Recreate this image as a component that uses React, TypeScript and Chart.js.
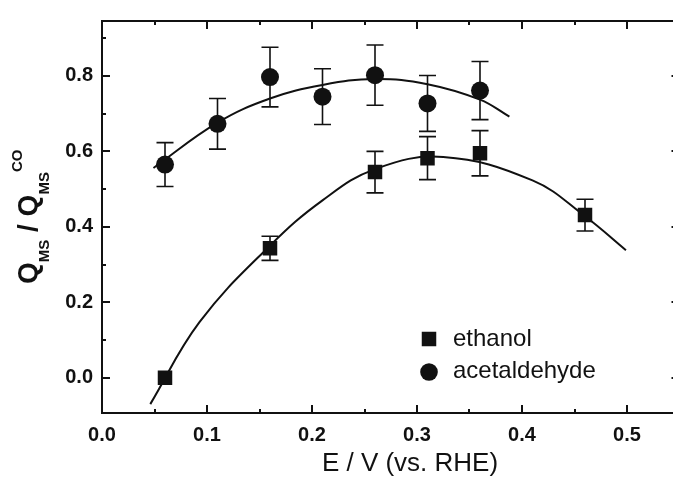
import React, { useEffect, useRef } from "react";
import { Chart, registerables } from "chart.js";

Chart.register(...registerables);

// ---- data ----
const ethanolPotentials = [0.06, 0.16, 0.26, 0.31, 0.36, 0.46];
const ethanolValues = [0.0, 0.343, 0.545, 0.582, 0.595, 0.431];
const ethanolErrors = [0, 0.032, 0.055, 0.057, 0.06, 0.042];

const acetaldehydePotentials = [0.06, 0.11, 0.16, 0.21, 0.26, 0.31, 0.36];
const acetaldehydeValues = [0.565, 0.673, 0.797, 0.745, 0.802, 0.727, 0.761];
const acetaldehydeErrors = [0.058, 0.067, 0.079, 0.074, 0.08, 0.074, 0.077];

const ethanolFitX = [0.046, 0.093, 0.16, 0.21, 0.26, 0.325, 0.41, 0.46, 0.499];
const ethanolFitY = [-0.07, 0.148, 0.35, 0.47, 0.553, 0.585, 0.523, 0.428, 0.338];

const acetaldehydeFitX = [0.049, 0.11, 0.16, 0.21, 0.26, 0.31, 0.36, 0.388];
const acetaldehydeFitY = [0.556, 0.676, 0.74, 0.776, 0.792, 0.778, 0.737, 0.692];

const xTicksMajor = [0, 0.1, 0.2, 0.3, 0.4, 0.5];
const xTicksMinor = [0.05, 0.15, 0.25, 0.35, 0.45, 0.55];
const yTicksMajor = [0, 0.2, 0.4, 0.6, 0.8];
const yTicksMinor = [0.1, 0.3, 0.5, 0.7, 0.9];

const seriesNames = ["ethanol", "acetaldehyde"];
const xTitle = "E / V (vs. RHE)";

const INK = "#111";
const FONT = "'Liberation Sans', Arial, Helvetica, sans-serif";

const toPts = (xs: number[], ys: number[]) => xs.map((x, i) => ({ x, y: ys[i] }));

const errorBarPlugin = {
  id: "errorBars",
  beforeDatasetsDraw(chart: any) {
    const { ctx, scales } = chart;
    const x = scales.x, y = scales.y;
    ctx.save();
    ctx.strokeStyle = INK;
    ctx.lineWidth = 1.6;
    const draw = (xs: number[], vs: number[], es: number[]) => {
      xs.forEach((xv, i) => {
        if (!es[i]) return;
        const px = x.getPixelForValue(xv);
        const p1 = y.getPixelForValue(vs[i] + es[i]);
        const p2 = y.getPixelForValue(vs[i] - es[i]);
        ctx.beginPath();
        ctx.moveTo(px, p1);
        ctx.lineTo(px, p2);
        ctx.moveTo(px - 8.5, p1);
        ctx.lineTo(px + 8.5, p1);
        ctx.moveTo(px - 8.5, p2);
        ctx.lineTo(px + 8.5, p2);
        ctx.stroke();
      });
    };
    draw(ethanolPotentials, ethanolValues, ethanolErrors);
    draw(acetaldehydePotentials, acetaldehydeValues, acetaldehydeErrors);
    ctx.restore();
  },
};

const framePlugin = {
  id: "frame",
  afterDraw(chart: any) {
    const { ctx, chartArea, scales } = chart;
    const { left, right, top, bottom } = chartArea;
    const x = scales.x, y = scales.y;
    ctx.save();
    ctx.strokeStyle = INK;
    ctx.lineWidth = 2;
    ctx.strokeRect(left, top, right - left, bottom - top);
    ctx.beginPath();
    const xt = (vals: number[], len: number) =>
      vals.forEach((v) => {
        const px = Math.round(x.getPixelForValue(v));
        ctx.moveTo(px, bottom);
        ctx.lineTo(px, bottom - len);
        ctx.moveTo(px, top);
        ctx.lineTo(px, top + len);
      });
    const yt = (vals: number[], len: number) =>
      vals.forEach((v) => {
        const py = Math.round(y.getPixelForValue(v));
        ctx.moveTo(left, py);
        ctx.lineTo(left + len, py);
        ctx.moveTo(right, py);
        ctx.lineTo(right - len, py);
      });
    xt(xTicksMajor, 8);
    xt(xTicksMinor, 4);
    yt(yTicksMajor, 8);
    yt(yTicksMinor, 4);
    ctx.stroke();

    // x title
    ctx.fillStyle = INK;
    ctx.font = `26px ${FONT}`;
    ctx.textAlign = "center";
    ctx.textBaseline = "alphabetic";
    ctx.fillText(xTitle, 410, 471);

    // y title with sub/superscripts
    ctx.save();
    ctx.translate(37, 284);
    ctx.rotate(-Math.PI / 2);
    ctx.textAlign = "left";
    const parts = [
      { t: "Q", s: 28, dy: 0 },
      { t: "MS", s: 15, dy: 12 },
      { t: " / Q", s: 28, dy: 0 },
      { t: "MS", s: 15, dy: 12 },
      { t: "CO", s: 15, dy: -15 },
    ];
    let cx = 0;
    parts.forEach((p) => {
      ctx.font = `bold ${p.s}px ${FONT}`;
      ctx.fillText(p.t, cx, p.dy);
      cx += ctx.measureText(p.t).width;
    });
    ctx.restore();

    // legend
    ctx.font = `24px ${FONT}`;
    ctx.textAlign = "left";
    ctx.fillRect(429 - 7.25, 339 - 7.25, 14.5, 14.5);
    ctx.fillText(seriesNames[0], 453, 346);
    ctx.beginPath();
    ctx.arc(429, 372, 8.8, 0, Math.PI * 2);
    ctx.fill();
    ctx.fillText(seriesNames[1], 453, 378);
    ctx.restore();
  },
};

export default function App() {
  const ref = useRef<HTMLCanvasElement>(null);
  useEffect(() => {
    if (!ref.current) return;
    const tickFont = { family: FONT, size: 20, weight: "bold" as const };
    const chart = new Chart(ref.current, {
      type: "scatter",
      data: {
        datasets: [
          {
            label: seriesNames[0],
            data: toPts(ethanolPotentials, ethanolValues),
            pointStyle: "rect",
            pointRadius: 10.25,
            backgroundColor: INK,
            borderColor: INK,
            borderWidth: 0,
            showLine: false,
            order: 0,
          },
          {
            label: seriesNames[1],
            data: toPts(acetaldehydePotentials, acetaldehydeValues),
            pointStyle: "circle",
            pointRadius: 9,
            backgroundColor: INK,
            borderColor: INK,
            borderWidth: 0,
            showLine: false,
            order: 1,
          },
          {
            label: "ethanol fit",
            data: toPts(ethanolFitX, ethanolFitY),
            showLine: true,
            pointRadius: 0,
            borderColor: INK,
            borderWidth: 2,
            tension: 0.4,
            fill: false,
            order: 2,
          },
          {
            label: "acetaldehyde fit",
            data: toPts(acetaldehydeFitX, acetaldehydeFitY),
            showLine: true,
            pointRadius: 0,
            borderColor: INK,
            borderWidth: 2,
            tension: 0.4,
            fill: false,
            order: 3,
          },
        ],
      },
      options: {
        responsive: false,
        animation: false,
        devicePixelRatio: 1,
        layout: { padding: { top: 13, right: 10.5, left: 0, bottom: 0 } },
        plugins: { legend: { display: false }, tooltip: { enabled: false } },
        scales: {
          x: {
            type: "linear",
            min: 0,
            max: 0.55,
            grid: { display: false, drawTicks: false },
            border: { display: false },
            ticks: {
              font: tickFont,
              color: INK,
              padding: 10,
              callback: (v: any) => Number(v).toFixed(1),
            },
            afterBuildTicks: (s: any) => {
              s.ticks = xTicksMajor.map((v) => ({ value: v }));
            },
            afterFit: (s: any) => {
              s.height = 67;
            },
          },
          y: {
            type: "linear",
            min: -0.0935,
            max: 0.9455,
            grid: { display: false, drawTicks: false },
            border: { display: false },
            ticks: {
              font: tickFont,
              color: INK,
              padding: 9,
              callback: (v: any) => Number(v).toFixed(1),
            },
            afterBuildTicks: (s: any) => {
              s.ticks = yTicksMajor.map((v) => ({ value: v }));
            },
            afterFit: (s: any) => {
              s.width = 102;
            },
          },
        },
      },
      plugins: [errorBarPlugin, framePlugin],
    });
    return () => chart.destroy();
  }, []);
  return (
    <div
      style={{
        position: "absolute",
        left: 0,
        top: 0,
        width: 673,
        height: 480,
        overflow: "hidden",
        background: "#fff",
      }}
    >
      <canvas ref={ref} width={690} height={480} style={{ width: 690, height: 480, display: "block" }} />
    </div>
  );
}
